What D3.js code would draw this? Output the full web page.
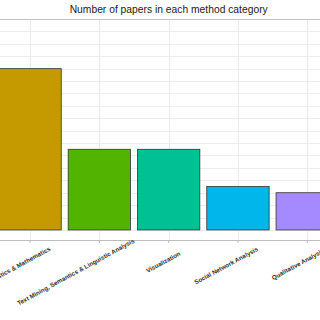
<!DOCTYPE html>
<html>
<head>
<meta charset="utf-8">
<script src="https://cdn.jsdelivr.net/npm/d3@7"></script>
<style>
  html, body { margin: 0; padding: 0; background: #fff; overflow: hidden; }
  svg { display: block; }
</style>
</head>
<body>
<svg id="chart" width="320" height="320"></svg>
<script>
var categories = [
  "Statistics & Mathematics",
  "Text Mining, Semantics & Linguistic Analysis",
  "Visualization",
  "Social Network Analysis",
  "Qualitative Analysis"
];
var counts = [26, 13, 13, 7, 6];
var barColors = ["#C49A00", "#53B400", "#00C094", "#00B6EB", "#A58AFF"];
var gridTicks = d3.range(0, 36, 2);
var yDomain = [-1.62, 34];

var svg = d3.select("#chart"),
  width = 320,
  panelTop = 19,
  panelBottom = 240;

var x = d3.scaleBand()
  .domain(categories)
  .range([-4.6, 341.9])
  .paddingInner(0.1)
  .paddingOuter(0.05);

var y = d3.scaleLinear()
  .domain(yDomain)
  .range([panelBottom, panelTop]);

// grid
svg.append("g")
  .selectAll("line")
  .data(gridTicks)
  .join("line")
  .attr("x1", 0).attr("x2", width)
  .attr("y1", function(d) { return Math.round(y(d)) + 0.5; })
  .attr("y2", function(d) { return Math.round(y(d)) + 0.5; })
  .attr("stroke", "#ededed")
  .attr("stroke-width", 1);

svg.append("g")
  .selectAll("line")
  .data(categories)
  .join("line")
  .attr("x1", function(d) { return Math.round(x(d) + x.bandwidth() / 2) + 0.5; })
  .attr("x2", function(d) { return Math.round(x(d) + x.bandwidth() / 2) + 0.5; })
  .attr("y1", panelTop).attr("y2", panelBottom)
  .attr("stroke", "#ebebeb");

// top border
svg.append("line")
  .attr("x1", 0).attr("x2", width)
  .attr("y1", panelTop + 0.5).attr("y2", panelTop + 0.5)
  .attr("stroke", "#c4c4c4");

// bars
svg.append("g")
  .selectAll("rect")
  .data(categories)
  .join("rect")
  .attr("x", function(d) { return x(d); })
  .attr("width", x.bandwidth())
  .attr("y", function(d, i) { return y(counts[i]); })
  .attr("height", function(d, i) { return y(0) - y(counts[i]); })
  .attr("fill", function(d, i) { return barColors[i]; })
  .attr("stroke", "#333")
  .attr("stroke-width", 0.8);

// x axis
var xAxis = svg.append("g")
  .attr("transform", "translate(0," + panelBottom + ")")
  .call(d3.axisBottom(x).tickSize(3).tickSizeOuter(0).tickFormat(""));
xAxis.select(".domain").attr("stroke", "#bdbdbd");
xAxis.selectAll(".tick line").attr("stroke", "#bdbdbd");

var angle = 28.6;
var labels = svg.append("g")
  .selectAll("text")
  .data(categories)
  .join("text")
  .text(function(d) { return d; })
  .attr("font-family", "Liberation Sans, Arial, sans-serif")
  .attr("font-weight", "bold")
  .attr("font-size", 6.2)
  .attr("fill", "#2b2b2b");

labels.each(function(d) {
  var len = this.getComputedTextLength();
  var cx = x(d) + x.bandwidth() / 2 + 3;
  d3.select(this)
    .attr("text-anchor", "start")
    .attr("transform", "translate(" + cx + "," + 260 + ") rotate(" + (-angle) + ")")
    .attr("x", -0.72 * len)
    .attr("y", 0);
});

// title
svg.append("text")
  .attr("x", 168.7)
  .attr("y", 13)
  .attr("text-anchor", "middle")
  .attr("font-family", "Liberation Sans, Arial, sans-serif")
  .attr("font-size", 10.3)
  .attr("fill", "#1a1a1a")
  .text("Number of papers in each method category");
</script>
</body>
</html>
